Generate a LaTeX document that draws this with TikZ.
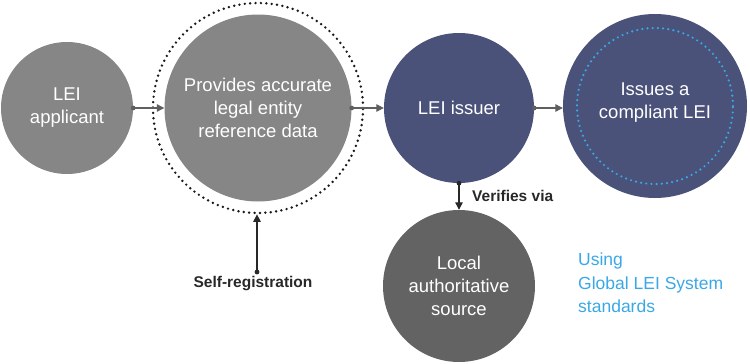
\documentclass[tikz,border=0pt]{standalone}
\usepackage{fontspec}
\setmainfont{Liberation Sans}
\usetikzlibrary{arrows.meta}
\definecolor{cgray}{RGB}{134,134,134}
\definecolor{cnavy}{RGB}{74,82,122}
\definecolor{cdark}{RGB}{99,99,99}
\definecolor{cblue}{RGB}{58,168,230}
\definecolor{carrow}{RGB}{95,95,95}
\definecolor{ctext}{RGB}{40,40,40}
\tikzset{
  bubble/.style={circle, inner sep=0pt, text=white, align=center,
    font=\fontsize{18.5}{23}\selectfont},
  conn/.style={draw=carrow, line width=1.2pt, -{Triangle[length=7.5pt,width=7.5pt]}},
  vconn/.style={draw=ctext, line width=1.2pt, -{Triangle[length=7.5pt,width=7.5pt]}},
  lbl/.style={text=ctext, font=\bfseries\fontsize{15.5}{19}\selectfont, inner sep=0pt},
}
\begin{document}
\begin{tikzpicture}[x=1pt,y=-1pt]
\useasboundingbox (0,0) rectangle (750,364);
\node[bubble, fill=cgray, minimum size=132pt] (app) at (67,108) {LEI\\applicant};
\node[circle, inner sep=0pt, minimum size=210pt, draw=black!90, line width=2.7pt,
  line cap=round, dash pattern=on 0pt off 5.4pt] (ring) at (258,108) {};
\node[bubble, fill=cgray, minimum size=187pt] (prov) at (258,108) {Provides accurate\\legal entity\\reference data};
\node[bubble, fill=cnavy, minimum size=150pt] (iss) at (459,108) {LEI issuer};
\node[bubble, fill=cnavy, minimum size=184pt] (comp) at (655,106) {};
\node[circle, inner sep=0pt, minimum size=156pt, draw=cblue, line width=2.4pt,
  line cap=round, dash pattern=on 0pt off 5.2pt] (compring) at (655,106) {};
\node[bubble] (comptext) at (655,103) {Issues a\\compliant LEI};
\node[bubble, fill=cdark, minimum size=152pt] (loc) at (459,286) {Local\\authoritative\\source};
\node[lbl, anchor=west] (ver) at (472,196) {Verifies via};
\node[lbl] (self) at (253,284) {Self-registration};
\coordinate (selfdot) at (257,272);
\node[text=cblue, align=left, anchor=north west, inner sep=0pt,
  font=\fontsize{17.5}{23.5}\selectfont] (std) at (578,253) {Using\\Global LEI System\\standards};
\draw[conn] (app.east) -- (prov.west);
\fill[carrow] (app.east) circle (2.4pt);
\draw[conn] (prov.east) -- (iss.west);
\fill[carrow] (prov.east) circle (2.4pt);
\draw[conn] (iss.east) -- (comp.west |- iss.east);
\fill[carrow] (iss.east) circle (2.4pt);
\draw[vconn] (iss.south) -- (loc.north);
\fill[ctext] (iss.south) circle (2.4pt);
\draw[vconn] (selfdot) -- (ring.south -| selfdot);
\fill[ctext] (selfdot) circle (2.4pt);
\end{tikzpicture}
\end{document}
